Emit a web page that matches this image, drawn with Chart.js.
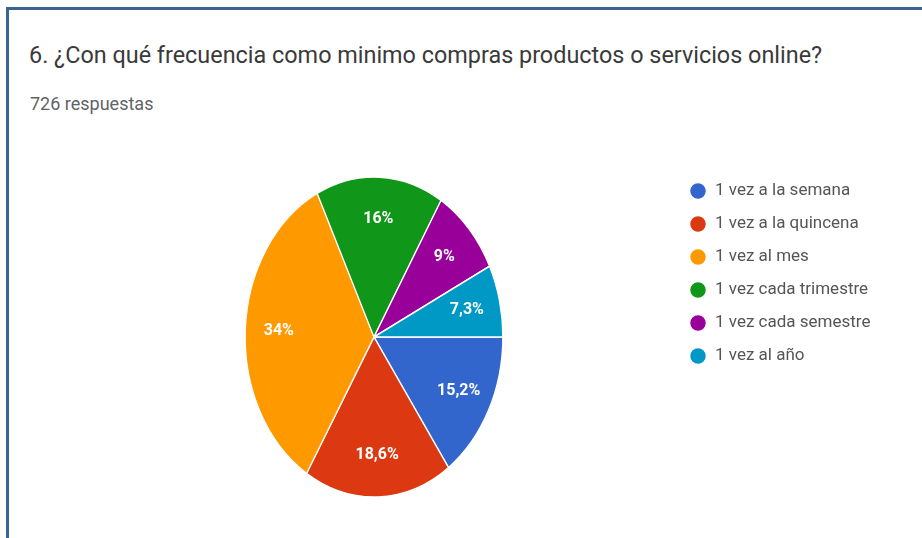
<!DOCTYPE html>
<html>
<head>
<meta charset="utf-8">
<script src="https://cdn.jsdelivr.net/npm/chart.js@4"></script>
<style>
  html, body { margin: 0; padding: 0; background: #fff; }
  #wrap { position: relative; width: 922px; height: 538px; overflow: hidden; background: #fff; }
  #frame { position: absolute; left: 6px; top: 7px; width: 940px; height: 560px;
           border-top: 3px solid #3a6593; border-left: 3px solid #3a6593; }
  #title { position: absolute; left: 29px; top: 44px; font: 23.4px/23px Roboto, sans-serif;
           color: #3a3a3a; white-space: nowrap; }
  #sub { position: absolute; left: 30px; top: 95px; font: 18px/18px Roboto, sans-serif;
         color: #5f6368; white-space: nowrap; }
  #c { position: absolute; left: 0; top: 0; }
</style>
</head>
<body>
<div id="wrap">
  <div id="frame"></div>
  <div id="title">6. ¿Con qué frecuencia como minimo compras productos o servicios online?</div>
  <div id="sub">726 respuestas</div>
  <canvas id="c" width="922" height="538"></canvas>
</div>
<script>
// ---- data ----
const categories = [
  "1 vez a la semana",
  "1 vez a la quincena",
  "1 vez al mes",
  "1 vez cada trimestre",
  "1 vez cada semestre",
  "1 vez al año"
];
const percentages = [15.2, 18.6, 34, 16, 9, 7.3];
const sliceLabels = percentages.map(v => String(v).replace('.', ',') + '%');

// ---- styling ----
const sliceColors = ['#3366cc', '#dc3912', '#ff9900', '#109618', '#990099', '#0099c6'];
const SQUISH = 0.805;      // horizontal compression of the pie (reference is elliptical)
const LABEL_R = 0.74;      // label distance as a fraction of radius

const pieDecor = {
  id: 'pieDecor',
  afterLayout(chart) {
    const lg = chart.legend;
    const w = lg.width, h = lg.height;
    lg.left = 673.5;
    lg.top = 166.5;
    lg.right = lg.left + Math.max(w, 240);
    lg.bottom = lg.top + Math.max(h, 240);
    lg.width = lg.right - lg.left;
    lg.height = lg.bottom - lg.top;
  },
  beforeDatasetsDraw(chart) {
    const arc = chart.getDatasetMeta(0).data[0];
    const ctx = chart.ctx;
    ctx.save();
    ctx.translate(arc.x, 0);
    ctx.scale(SQUISH, 1);
    ctx.translate(-arc.x, 0);
  },
  afterDatasetsDraw(chart) {
    const ctx = chart.ctx;
    ctx.restore();
    const meta = chart.getDatasetMeta(0);
    ctx.save();
    ctx.fillStyle = '#ffffff';
    ctx.font = 'bold 16px Roboto';
    ctx.textAlign = 'center';
    ctx.textBaseline = 'middle';
    meta.data.forEach((arc, i) => {
      const mid = (arc.startAngle + arc.endAngle) / 2;
      const r = arc.outerRadius * LABEL_R;
      ctx.fillText(sliceLabels[i], arc.x + Math.cos(mid) * r * SQUISH, arc.y + Math.sin(mid) * r);
    });
    ctx.restore();
  }
};

new Chart(document.getElementById('c'), {
  type: 'pie',
  data: {
    labels: categories,
    datasets: [{
      data: percentages,
      backgroundColor: sliceColors,
      borderColor: '#ffffff',
      borderWidth: 1.5,
      radius: 160
    }]
  },
  options: {
    responsive: false,
    animation: false,
    devicePixelRatio: 1,
    rotation: 90,
    layout: { padding: { left: 0, right: 174, top: 136, bottom: 0 } },
    plugins: {
      tooltip: { enabled: false },
      legend: {
        display: true,
        position: 'chartArea',
        align: 'start',
        labels: {
          usePointStyle: true,
          pointStyle: 'circle',
          boxWidth: 17,
          boxHeight: 12,
          padding: 16,
          color: '#555555',
          font: { family: 'Roboto', size: 17 }
        }
      }
    }
  },
  plugins: [pieDecor]
});
</script>
</body>
</html>
